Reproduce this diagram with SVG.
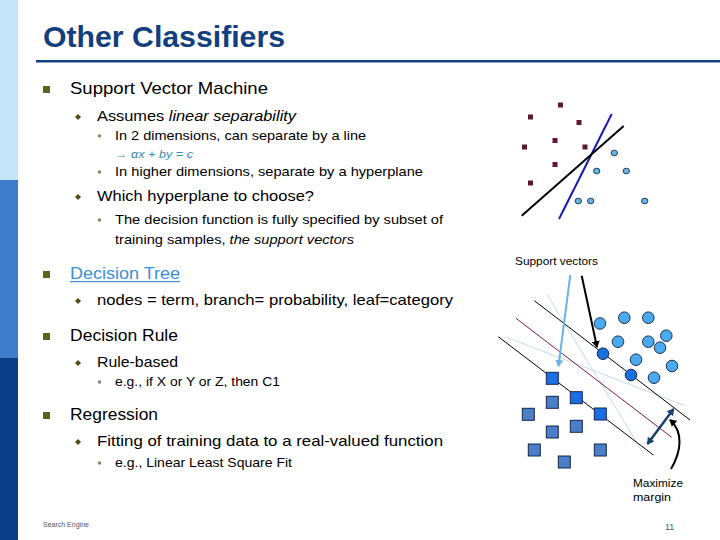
<svg xmlns="http://www.w3.org/2000/svg" width="720" height="540" viewBox="0 0 720 540">
<style>
.t{font-family:"Liberation Sans",Arial,sans-serif;fill:#000}
.l1{font-size:17px}
.l2{font-size:15px}
.l3{font-size:13px}
.sq{fill:#5c6419}
.dm{fill:#4f4a14}
.dt{fill:#8c8a66}
.msq{fill:#5c1a2c}
.mci{fill:#6ab4e2;stroke:#1d3f5f;stroke-width:1}
.bci{fill:#4aaaee;stroke:#1d3250;stroke-width:1}
.sci{fill:#1a6fe0;stroke:#0e2a55;stroke-width:1}
.bsq{fill:#4a7ec8;stroke:#15254a;stroke-width:1}
.ssq{fill:#1a6ee6;stroke:#15254a;stroke-width:1}
.thin{stroke-width:1;fill:none}
</style>
<defs>
<marker id="ahLB" markerWidth="8" markerHeight="8" refX="6" refY="4" orient="auto" markerUnits="userSpaceOnUse"><path d="M0,0 L7,4 L0,8 z" fill="#6fb0e6"/></marker>
<marker id="ahK" markerWidth="8" markerHeight="8" refX="6" refY="4" orient="auto" markerUnits="userSpaceOnUse"><path d="M0,0 L7,4 L0,8 z" fill="#000"/></marker>
<marker id="ahD" markerWidth="8" markerHeight="8" refX="6" refY="4" orient="auto" markerUnits="userSpaceOnUse"><path d="M0,0 L7,4 L0,8 z" fill="#1a3f70"/></marker>
<marker id="ahDs" markerWidth="8" markerHeight="8" refX="1" refY="4" orient="auto" markerUnits="userSpaceOnUse"><path d="M7,0 L0,4 L7,8 z" fill="#1a3f70"/></marker>
</defs>
<rect width="720" height="540" fill="#fff"/>
<g id="sidebar">
<rect x="0" y="0" width="18" height="180" fill="#c6e4f9"/>
<rect x="0" y="180" width="18" height="178" fill="#3e7dcc"/>
<rect x="0" y="358" width="18" height="182" fill="#0b3d87"/>
</g>
<g id="title">
<text x="43" y="47" class="t" style="font-size:30px;font-weight:bold;fill:#12407e" textLength="242" lengthAdjust="spacingAndGlyphs">Other Classifiers</text>
<rect x="36" y="60" width="684" height="2.5" fill="#12407e"/>
</g>
<g id="bullets">
<rect x="43" y="86" width="7" height="7" class="sq"/>
<text x="70" y="94" class="t l1" textLength="198" lengthAdjust="spacingAndGlyphs">Support Vector Machine</text>
<path d="M78,114 l3,3 l-3,3 l-3,-3z" class="dm"/>
<text x="97" y="121" class="t l2" textLength="199" lengthAdjust="spacingAndGlyphs">Assumes <tspan font-style="italic">linear separability</tspan></text>
<circle cx="99.5" cy="136" r="1.8" class="dt"/>
<text x="115" y="140" class="t l3" textLength="251" lengthAdjust="spacingAndGlyphs">In 2 dimensions, can separate by a line</text>
<text x="115" y="158" class="t" style="font-size:11px;font-style:italic;fill:#3a8ab8" textLength="78" lengthAdjust="spacingAndGlyphs">→  αx + by = c</text>
<circle cx="99.5" cy="172" r="1.8" class="dt"/>
<text x="115" y="176" class="t l3" textLength="308" lengthAdjust="spacingAndGlyphs">In higher dimensions, separate by a hyperplane</text>
<path d="M78,194 l3,3 l-3,3 l-3,-3z" class="dm"/>
<text x="97" y="201" class="t l2" textLength="217" lengthAdjust="spacingAndGlyphs">Which hyperplane to choose?</text>
<circle cx="99.5" cy="220" r="1.8" class="dt"/>
<text x="115" y="224" class="t l3" textLength="328" lengthAdjust="spacingAndGlyphs">The decision function is fully specified by subset of</text>
<text x="115" y="244" class="t l3" textLength="239" lengthAdjust="spacingAndGlyphs">training samples, <tspan font-style="italic">the support vectors</tspan></text>
<rect x="43" y="271" width="7" height="7" class="sq"/>
<text x="70" y="279" class="t l1" style="fill:#3b8ed8" textLength="110" lengthAdjust="spacingAndGlyphs">Decision Tree</text>
<rect x="70" y="281" width="110" height="1.2" fill="#3b8ed8"/>
<path d="M78,298 l3,3 l-3,3 l-3,-3z" class="dm"/>
<text x="97" y="305" class="t l2" textLength="356" lengthAdjust="spacingAndGlyphs">nodes = term, branch= probability, leaf=category</text>
<rect x="43" y="333" width="7" height="7" class="sq"/>
<text x="70" y="341" class="t l1" textLength="108" lengthAdjust="spacingAndGlyphs">Decision Rule</text>
<path d="M78,360 l3,3 l-3,3 l-3,-3z" class="dm"/>
<text x="97" y="367" class="t l2" textLength="81" lengthAdjust="spacingAndGlyphs">Rule-based</text>
<circle cx="99.5" cy="382" r="1.8" class="dt"/>
<text x="115" y="386" class="t l3" textLength="165" lengthAdjust="spacingAndGlyphs">e.g., if X or Y or Z, then C1</text>
<rect x="43" y="412" width="7" height="7" class="sq"/>
<text x="70" y="420" class="t l1" textLength="88" lengthAdjust="spacingAndGlyphs">Regression</text>
<path d="M78,439 l3,3 l-3,3 l-3,-3z" class="dm"/>
<text x="97" y="446" class="t l2" textLength="346" lengthAdjust="spacingAndGlyphs">Fitting of training data to a real-valued function</text>
<circle cx="99.5" cy="463" r="1.8" class="dt"/>
<text x="115" y="467" class="t l3" textLength="177" lengthAdjust="spacingAndGlyphs">e.g., Linear Least Square Fit</text>
</g>
<g id="footer">
<text x="43" y="527" class="t" style="font-size:7px;fill:#555">Search Engine</text>
<text x="665" y="530" class="t" style="font-size:9px;fill:#555">11</text>
</g>
<g id="scatter-top">
<rect x="558" y="102.5" width="5" height="5" class="msq"/>
<rect x="528" y="114.5" width="5" height="5" class="msq"/>
<rect x="576.5" y="120" width="5" height="5" class="msq"/>
<rect x="522" y="144.5" width="5" height="5" class="msq"/>
<rect x="552.5" y="138" width="5" height="5" class="msq"/>
<rect x="582.5" y="144.5" width="5" height="5" class="msq"/>
<rect x="552.5" y="162" width="5" height="5" class="msq"/>
<rect x="528" y="180.5" width="5" height="5" class="msq"/>
<ellipse cx="614.3" cy="153" rx="3.2" ry="2.8" class="mci"/>
<ellipse cx="596.7" cy="171" rx="3.2" ry="2.8" class="mci"/>
<ellipse cx="626.3" cy="171" rx="3.2" ry="2.8" class="mci"/>
<ellipse cx="578.3" cy="201" rx="3.2" ry="2.8" class="mci"/>
<ellipse cx="590.7" cy="201" rx="3.2" ry="2.8" class="mci"/>
<ellipse cx="644.7" cy="201" rx="3.2" ry="2.8" class="mci"/>
<line x1="559" y1="219" x2="611.7" y2="114" stroke="#1a1ab0" stroke-width="2"/>
<line x1="521.7" y1="215.7" x2="623.7" y2="126" stroke="#000" stroke-width="2"/>
</g>
<g id="svm-figure">
<line x1="546.7" y1="294" x2="643.3" y2="453.3" stroke="#c2dce8" class="thin"/>
<line x1="505" y1="336.7" x2="685" y2="405.7" stroke="#c2dce8" class="thin"/>
<line x1="534.3" y1="300.7" x2="690" y2="420" stroke="#000" class="thin"/>
<line x1="516" y1="318.3" x2="671.7" y2="437.3" stroke="#7a1a3a" class="thin"/>
<line x1="498.3" y1="336.7" x2="653.3" y2="455" stroke="#000" class="thin"/>
<circle cx="600" cy="323.5" r="5.8" class="bci"/>
<circle cx="624.3" cy="317.7" r="5.8" class="bci"/>
<circle cx="648.3" cy="317.7" r="5.8" class="bci"/>
<circle cx="666.3" cy="335.7" r="5.8" class="bci"/>
<circle cx="618" cy="341.7" r="5.8" class="bci"/>
<circle cx="648.3" cy="341.7" r="5.8" class="bci"/>
<circle cx="660" cy="347.7" r="5.8" class="bci"/>
<circle cx="636" cy="359.7" r="5.8" class="bci"/>
<circle cx="672" cy="366" r="5.8" class="bci"/>
<circle cx="654" cy="377.7" r="5.8" class="bci"/>
<circle cx="603" cy="353.7" r="5.8" class="sci"/>
<circle cx="631" cy="375" r="5.8" class="sci"/>
<rect x="546.3" y="372.3" width="12" height="12" class="ssq"/>
<rect x="570.3" y="391.7" width="12" height="12" class="ssq"/>
<rect x="594.3" y="408" width="12" height="12" class="ssq"/>
<rect x="546.3" y="396.3" width="12" height="12" class="bsq"/>
<rect x="522.3" y="408.3" width="12" height="12" class="bsq"/>
<rect x="570.3" y="420.3" width="12" height="12" class="bsq"/>
<rect x="546.3" y="426" width="12" height="12" class="bsq"/>
<rect x="528.3" y="444" width="12" height="12" class="bsq"/>
<rect x="594.3" y="444" width="12" height="12" class="bsq"/>
<rect x="558.3" y="456" width="12" height="12" class="bsq"/>
</g>
<g id="connectors">
<line x1="570.3" y1="275" x2="558.5" y2="366" stroke="#6fb0e6" stroke-width="2" marker-end="url(#ahLB)"/>
<line x1="581.7" y1="275.7" x2="597" y2="347" stroke="#000" stroke-width="2" marker-end="url(#ahK)"/>
<line x1="647.5" y1="444" x2="673.5" y2="409" stroke="#1a3f70" stroke-width="2.5" marker-end="url(#ahD)" marker-start="url(#ahDs)"/>
<path d="M671,469 C681,452 684,432 670,420" stroke="#000" stroke-width="2" fill="none" marker-end="url(#ahK)"/>
</g>
<g id="labels">
<text x="515" y="265" class="t" style="font-size:11px" textLength="83" lengthAdjust="spacingAndGlyphs">Support vectors</text>
<text x="633" y="487" class="t" style="font-size:11px" textLength="50" lengthAdjust="spacingAndGlyphs">Maximize</text>
<text x="633" y="501" class="t" style="font-size:11px" textLength="38" lengthAdjust="spacingAndGlyphs">margin</text>
</g>
</svg>
